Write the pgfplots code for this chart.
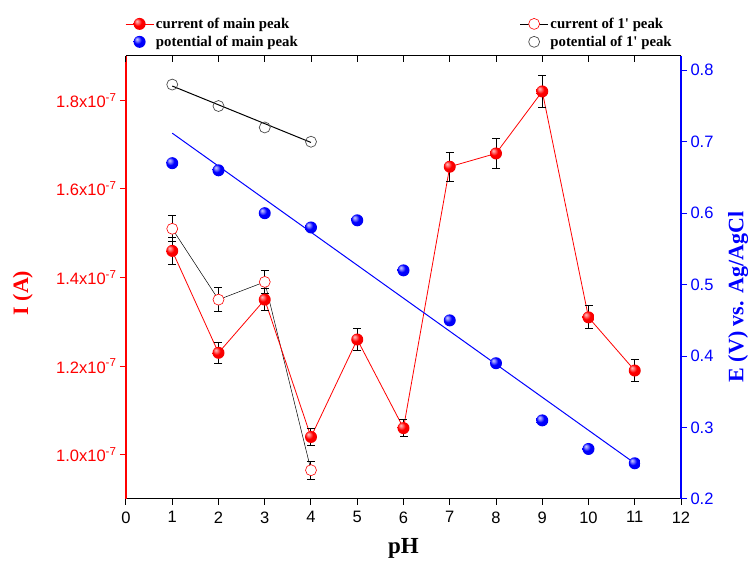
\documentclass[border=0pt]{standalone}
\usepackage{pgfplots}
\pgfplotsset{compat=1.18}
\usepackage{fontspec}
\setmainfont{Liberation Serif}
\newfontfamily\arial{Liberation Sans}

\pgfdeclareradialshading{redballshade}{\pgfpoint{-12bp}{12bp}}{color(0bp)=(red!25!white); color(7bp)=(red!55!white); color(16bp)=(red); color(38bp)=(red!92!black); color(50bp)=(red!75!black)}
\pgfdeclareradialshading{blueballshade}{\pgfpoint{-12bp}{12bp}}{color(0bp)=(blue!20!white); color(7bp)=(blue!50!white); color(16bp)=(blue); color(38bp)=(blue!92!black); color(50bp)=(blue!75!black)}
\pgfdeclareplotmark{redball}{\pgfpathcircle{\pgfpointorigin}{\pgfplotmarksize}\pgfshadepath{redballshade}{0}\pgfusepath{}}
\pgfdeclareplotmark{blueball}{\pgfpathcircle{\pgfpointorigin}{\pgfplotmarksize}\pgfshadepath{blueballshade}{0}\pgfusepath{}}

\pgfplotstableread{
x y e
1 1.46e-7 0.030e-7
2 1.23e-7 0.024e-7
3 1.35e-7 0.025e-7
4 1.04e-7 0.020e-7
5 1.26e-7 0.025e-7
6 1.06e-7 0.020e-7
7 1.65e-7 0.033e-7
8 1.68e-7 0.033e-7
9 1.82e-7 0.037e-7
10 1.31e-7 0.026e-7
11 1.19e-7 0.024e-7
}\maincur
\pgfplotstableread{
x y e
1 1.51e-7 0.029e-7
2 1.35e-7 0.027e-7
3 1.39e-7 0.026e-7
4 0.965e-7 0.020e-7
}\onecur
\pgfplotstableread{
x y
1 0.67
2 0.66
3 0.60
4 0.58
5 0.59
6 0.52
7 0.45
8 0.39
9 0.31
10 0.27
11 0.25
}\mainpot
\pgfplotstableread{
x y
1 0.78
2 0.75
3 0.72
4 0.70
}\onepot

\begin{document}
\begin{tikzpicture}
\useasboundingbox (-126pt,-68pt) rectangle (622pt,499pt);
\begin{axis}[
  scale only axis, width=555pt, height=443pt,
  xmin=0, xmax=12, ymin=0.9e-7, ymax=1.9e-7,
  axis x line*=bottom, axis y line*=left,
  x axis line style={black, line width=1pt, -},
  y axis line style={red, line width=1.2pt, -},
  xtick={0,1,2,3,4,5,6,7,8,9,10,11,12},
  xticklabels={0,1,2,3,4,5,6,7,8,9,10,11,12},
  ytick={1.0e-7,1.2e-7,1.4e-7,1.6e-7,1.8e-7},
  yticklabels={1.0x10\textsuperscript{-7},1.2x10\textsuperscript{-7},1.4x10\textsuperscript{-7},1.6x10\textsuperscript{-7},1.8x10\textsuperscript{-7}},
  scaled y ticks=false,
  tick align=outside, major tick length=6pt,
  xtick style={black, line width=1pt},
  ytick style={red, line width=1pt},
  x tick label style={font=\arial\fontsize{16.5}{16.5}\selectfont, black, yshift=-3pt},
  y tick label style={font=\arial\fontsize{16.5}{16.5}\selectfont, red},
  xlabel={pH}, xlabel style={font=\bfseries\fontsize{23}{23}\selectfont, black, at={(axis description cs:0.5,-0.111)}, anchor=center},
  ylabel={I (A)}, ylabel style={font=\bfseries\fontsize{22}{22}\selectfont, red, at={(axis description cs:-0.186,0.465)}, anchor=center},
  legend columns=2,
  legend cell align=left,
  legend image code/.code={\draw[mark repeat=2,mark phase=2] plot coordinates {(0pt,0pt) (14pt,0pt) (28pt,0pt)};},
  legend style={at={(0,1)}, anchor=south west, xshift=-4pt, yshift=4pt, draw=none, fill=none,
    font=\bfseries\fontsize{14.8}{14.8}\selectfont, row sep=2pt,
    /tikz/every even column/.append style={column sep=220pt}},
]
\addlegendimage{red, line width=0.8pt, mark=redball, mark size=6pt}
\addlegendentry{current of main peak}
\addlegendimage{black, line width=0.6pt, mark=*, mark size=5.5pt, mark options={draw=red, fill=white}}
\addlegendentry{current of 1\textquotesingle{} peak}
\addlegendimage{mark=blueball, mark size=6pt, legend image code/.code={\path plot coordinates {(14pt,0pt)};}}
\addlegendentry{potential of main peak}
\addlegendimage{mark=o, mark size=5.5pt, mark options={draw=black!70, line width=0.7pt}, legend image code/.code={\path plot coordinates {(14pt,0pt)};}}
\addlegendentry{potential of 1\textquotesingle{} peak}

\addplot[forget plot, black, line width=0.5pt, mark=*, mark size=5.5pt, mark options={draw=red, fill=white, line width=0.6pt},
  error bars/.cd, y dir=both, y explicit,
  error bar style={black, line width=1pt},
  error mark options={rotate=90, black, mark size=4pt, line width=1pt}]
  table[x=x, y=y, y error=e] {\onecur};
\addplot[forget plot, red, line width=0.8pt, mark=redball, mark size=6pt,
  error bars/.cd, y dir=both, y explicit,
  error bar style={black, line width=1pt},
  error mark options={rotate=90, black, mark size=4pt, line width=1pt}]
  table[x=x, y=y, y error=e] {\maincur};
\end{axis}

\begin{axis}[
  scale only axis, width=555pt, height=443pt,
  xmin=0, xmax=12, ymin=0.2, ymax=0.82,
  axis x line*=top, axis y line*=right,
  x axis line style={black, line width=1pt, -},
  y axis line style={blue, line width=1.2pt, -},
  xtick={0,1,2,3,4,5,6,7,8,9,10,11,12},
  xticklabels={},
  ytick={0.2,0.3,0.4,0.5,0.6,0.7,0.8},
  yticklabels={0.2,0.3,0.4,0.5,0.6,0.7,0.8},
  xtick align=inside, ytick align=outside, major tick length=6pt,
  xtick style={black, line width=1pt},
  ytick style={blue, line width=1pt},
  y tick label style={font=\arial\fontsize{16.5}{16.5}\selectfont, blue},
  ylabel={E (V) vs. Ag/AgCl}, ylabel style={font=\bfseries\fontsize{22}{22}\selectfont, blue, at={(axis description cs:1.103,0.456)}, anchor=center},
]
\addplot[blue, line width=1pt] coordinates {(1,0.712) (11,0.25)};
\addplot[only marks, mark=blueball, mark size=6pt] table[x=x, y=y] {\mainpot};
\addplot[black, line width=1pt] coordinates {(1,0.778) (4,0.699)};
\addplot[only marks, mark=o, mark size=5.5pt, mark options={draw=black!70, line width=0.7pt}] table[x=x, y=y] {\onepot};
\end{axis}
\end{tikzpicture}
\end{document}
